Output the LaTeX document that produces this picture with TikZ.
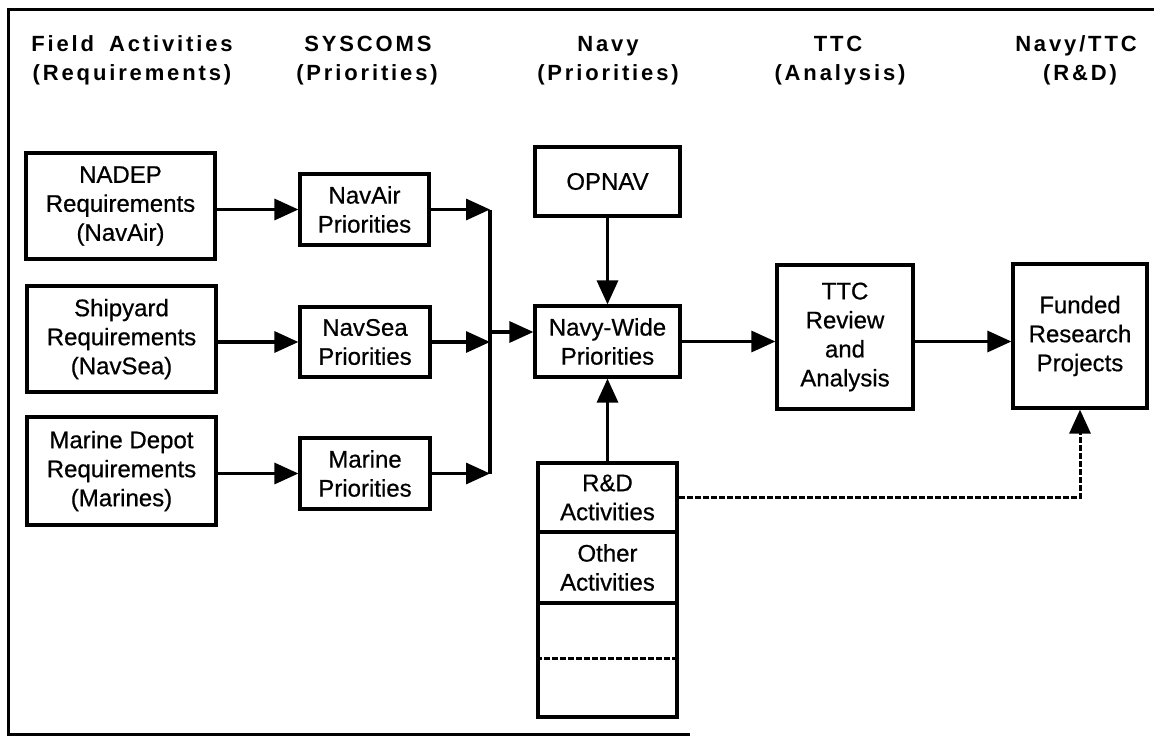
\documentclass[tikz,border=0pt]{standalone}
\usepackage{fontspec}
\setmainfont{Liberation Sans}[FakeBold=0.5]
\newfontfamily\bodyfam{Liberation Sans}[FakeBold=0.6]
\newfontfamily\headfam{Liberation Sans Bold}[LetterSpace=13]
\usetikzlibrary{arrows.meta}
\tikzset{
  box/.style={draw, line width=3.2pt, align=center, inner sep=0pt,
    font=\bodyfam\fontsize{24}{29}\selectfont},
  head/.style={anchor=base, inner sep=0pt, font=\headfam\fontsize{22}{26}\selectfont},
  arr/.style={line width=3.2pt, -{Triangle[length=24pt,width=21pt]}},
  dasharr/.style={line width=3pt, dash pattern=on 6pt off 2pt, -{Triangle[length=24pt,width=21pt]}},
  sep/.style={line width=3pt, dash pattern=on 6pt off 2pt},
  frame/.style={line width=3pt},
  bus/.style={line width=3.2pt}
}
\begin{document}
\begin{tikzpicture}[x=1pt,y=-1pt]
\useasboundingbox (0,0) rectangle (1154,736);
% frame
\draw[frame] (1154,9) -- (8,9) -- (8,734) -- (690,734);
% headers
\node[head] (h1a) at (132,51) {Field\hspace{6pt} Activities};
\node[head] (h1b) at (132,80) {(Requirements)};
\node[head] (h2a) at (368,51) {SYSCOMS};
\node[head] (h2b) at (367,80) {(Priorities)};
\node[head] (h3a) at (608,51) {Navy};
\node[head] (h3b) at (608,80) {(Priorities)};
\node[head] (h4a) at (838,51) {TTC};
\node[head] (h4b) at (840,80) {(Analysis)};
\node[head] (h5a) at (1076,51) {Navy/TTC};
\node[head] (h5b) at (1080,80) {(R\&D)};
% left column
\node[box, minimum width=189pt, minimum height=106pt] (nadep) at (120.5,206) {NADEP\\Requirements\\(NavAir)};
\node[box, minimum width=189pt, minimum height=106pt] (ship) at (121.5,339) {Shipyard\\Requirements\\(NavSea)};
\node[box, minimum width=189pt, minimum height=108pt] (mdep) at (121.5,471) {Marine Depot\\Requirements\\(Marines)};
% syscoms
\node[box, minimum width=129pt, minimum height=71pt] (navair) at (364.5,209.5) {NavAir\\Priorities};
\node[box, minimum width=130pt, minimum height=70pt] (navsea) at (365,342) {NavSea\\Priorities};
\node[box, minimum width=130pt, minimum height=71pt] (marpri) at (365,473.5) {Marine\\Priorities};
% navy
\node[box, minimum width=145pt, minimum height=69pt] (opnav) at (607.5,181.5) {OPNAV};
\node[box, minimum width=145pt, minimum height=71pt] (navywide) at (607.5,341.5) {Navy-Wide\\Priorities};
\node[box, minimum width=139pt, minimum height=69pt] (rd) at (607.5,497.5) {R\&D\\Activities};
\node[box, minimum width=139pt, minimum height=71pt] (other) at (607.5,567.5) {Other\\Activities};
\node[box, minimum width=139pt, minimum height=114pt] (empty) at (607.5,660) {};
\draw[sep] (empty.west |- 0,658) -- (empty.east |- 0,658);
% ttc and funded
\node[box, minimum width=136pt, minimum height=144pt] (ttc) at (845,337) {TTC\\Review\\and\\Analysis};
\node[box, minimum width=134pt, minimum height=144pt] (funded) at (1080,336) {Funded\\Research\\Projects};
% bus
\coordinate (busT) at (490,209.5);
\coordinate (busB) at (490,473.5);
\coordinate (busO) at (490,332);
\draw[bus] (busT) -- (busB);
% connectors
\draw[arr] (navair.west -| nadep.east) -- (navair.west);
\draw[arr] (navsea.west -| ship.east) -- (navsea.west);
\draw[arr] (marpri.west -| mdep.east) -- (marpri.west);
\draw[arr] (navair.east) -- (navair.east -| busT);
\draw[arr] (navsea.east) -- (navsea.east -| busT);
\draw[arr] (marpri.east) -- (marpri.east -| busT);
\draw[arr] (busO) -- (busO -| navywide.west);
\draw[arr] (opnav.south) -- (navywide.north);
\draw[arr] (rd.north) -- (navywide.south);
\draw[arr] (navywide.east) -- (navywide.east -| ttc.west);
\draw[arr] (navywide.east -| ttc.east) -- (navywide.east -| funded.west);
\draw[dasharr] (rd.east) -| (funded.south);
\end{tikzpicture}
\end{document}
